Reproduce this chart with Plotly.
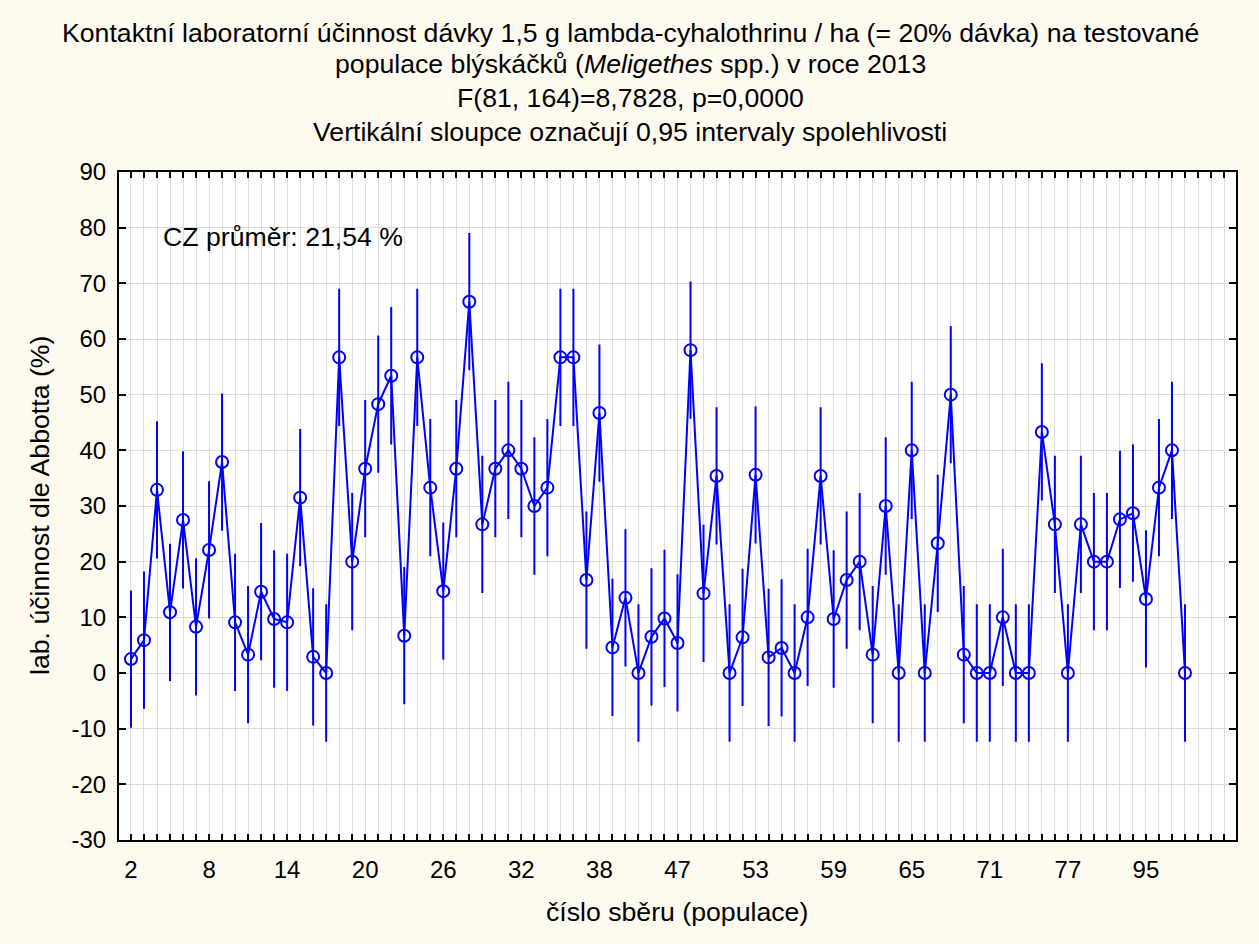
import plotly.graph_objects as go

# Mean lab. efficacy (Abbott, %) per tested population, in plotted order
efficacy = [
    2.5, 5.9, 32.9, 10.9, 27.5, 8.3, 22.1, 37.9, 9.1, 3.3,
    14.6, 9.7, 9.1, 31.5, 2.9, 0.0, 56.7, 20.0, 36.7, 48.3,
    53.4, 6.7, 56.7, 33.3, 14.7, 36.7, 66.7, 26.7, 36.7, 40.0,
    36.7, 30.0, 33.3, 56.7, 56.7, 16.7, 46.7, 4.6, 13.5, 0.0,
    6.5, 9.8, 5.4, 58.0, 14.3, 35.4, 0.0, 6.4, 35.6, 2.8,
    4.5, 0.0, 10.0, 35.4, 9.7, 16.7, 20.0, 3.3, 30.0, 0.0,
    40.0, 0.0, 23.3, 50.0, 3.3, 0.0, 0.0, 10.0, 0.0, 0.0,
    43.3, 26.7, 0.0, 26.7, 20.0, 20.0, 27.6, 28.7, 13.3, 33.3,
    40.0, 0.0,
]
# half-width of the pooled 0.95 confidence interval (same for all groups)
ci_half = [12.15] * len(efficacy)

# labelled sample numbers (every 6th position on the x axis)
tick_labels = ["2", "8", "14", "20", "26", "32", "38", "47", "53", "59", "65", "71", "77", "95"]
tick_step = 6

# y axis ticks (hyphen minus, as in the original)
y_ticks = [-30, -20, -10, 0, 10, 20, 30, 40, 50, 60, 70, 80, 90]
y_tick_text = ["-30", "-20", "-10", "0", "10", "20", "30", "40", "50", "60", "70", "80", "90"]

title_lines = [
    "Kontaktní laboratorní účinnost dávky 1,5 g lambda-cyhalothrinu / ha (= 20% dávka) na testované",
    "populace blýskáčků (<i>Meligethes</i> spp.) v roce 2013",
    "F(81, 164)=8,7828, p=0,0000",
    "Vertikální sloupce označují 0,95 intervaly spolehlivosti",
]
note_text = "CZ průměr: 21,54 %"
x_title = "číslo sběru (populace)"
y_title = "lab. účinnost dle Abbotta (%)"

positions = list(range(len(efficacy)))
BLUE = "#0000FF"
GRID = "#DCDCDC"
FONT = "Arial, Liberation Sans, sans-serif"
FS_TEXT = 26.67
FS_TICK = 24

fig = go.Figure()
fig.add_trace(go.Scatter(
    x=positions, y=efficacy,
    mode="lines+markers",
    line=dict(color=BLUE, width=2),
    marker=dict(symbol="circle-open", size=12, color=BLUE, line=dict(width=2, color=BLUE)),
    error_y=dict(type="data", array=ci_half, visible=True, color=BLUE, thickness=2, width=1),
    showlegend=False,
))

W, H = 1259, 944
ml, mr, mt, mb = 119, 23, 172, 104
pw, ph = W - ml - mr, H - mt - mb


def px_x(p):
    return (p - ml) / pw


def px_y(p):
    return (H - mb - p) / ph


annotations = []
for txt, yc in zip(title_lines, [33, 64, 98, 132]):
    annotations.append(dict(text=txt, xref="paper", yref="paper", x=px_x(630), y=px_y(yc),
                            xanchor="center", yanchor="middle", showarrow=False,
                            font=dict(size=FS_TEXT, color="black", family=FONT)))
annotations.append(dict(text=note_text, xref="paper", yref="paper", x=px_x(161), y=px_y(237),
                        xanchor="left", yanchor="middle", showarrow=False,
                        font=dict(size=FS_TEXT, color="black", family=FONT)))
annotations.append(dict(text=x_title, xref="paper", yref="paper", x=px_x(677), y=px_y(912),
                        xanchor="center", yanchor="middle", showarrow=False,
                        font=dict(size=FS_TEXT, color="black", family=FONT)))
annotations.append(dict(text=y_title, xref="paper", yref="paper", x=px_x(40), y=px_y(506),
                        xanchor="center", yanchor="middle", showarrow=False, textangle=-90,
                        font=dict(size=FS_TEXT, color="black", family=FONT)))

tickvals = [i * tick_step for i in range(len(tick_labels))]

fig.update_layout(
    width=W, height=H,
    margin=dict(l=ml, r=mr, t=mt, b=mb, autoexpand=False),
    paper_bgcolor="#FEFAEF",
    plot_bgcolor="white",
    font=dict(family=FONT, size=FS_TICK, color="black"),
    annotations=annotations,
    xaxis=dict(
        range=[-0.92, 84.92], automargin=False,
        tickmode="array", tickvals=tickvals, ticktext=tick_labels,
        ticks="inside", ticklen=6, tickwidth=2, tickcolor="black",
        ticklabelstandoff=7,
        showgrid=True, gridcolor=GRID, gridwidth=1,
        minor=dict(tickmode="linear", tick0=0, dtick=1, ticks="inside", ticklen=6,
                   tickwidth=2, tickcolor="black", showgrid=True, gridcolor=GRID, gridwidth=1),
        showline=True, linecolor="black", linewidth=2, mirror="ticks",
        zeroline=False,
        tickfont=dict(size=FS_TICK, family=FONT, color="black"),
    ),
    yaxis=dict(
        range=[-30, 90], automargin=False,
        tickmode="array", tickvals=y_ticks, ticktext=y_tick_text,
        ticks="inside", ticklen=7, tickwidth=2, tickcolor="black",
        ticklabelstandoff=6,
        showgrid=True, gridcolor=GRID, gridwidth=1,
        showline=True, linecolor="black", linewidth=2, mirror="ticks",
        zeroline=False,
        tickfont=dict(size=FS_TICK, family=FONT, color="black"),
    ),
)

fig.write_html("out.html", config={"displayModeBar": False},
               post_script="document.body.style.margin='0px';")
